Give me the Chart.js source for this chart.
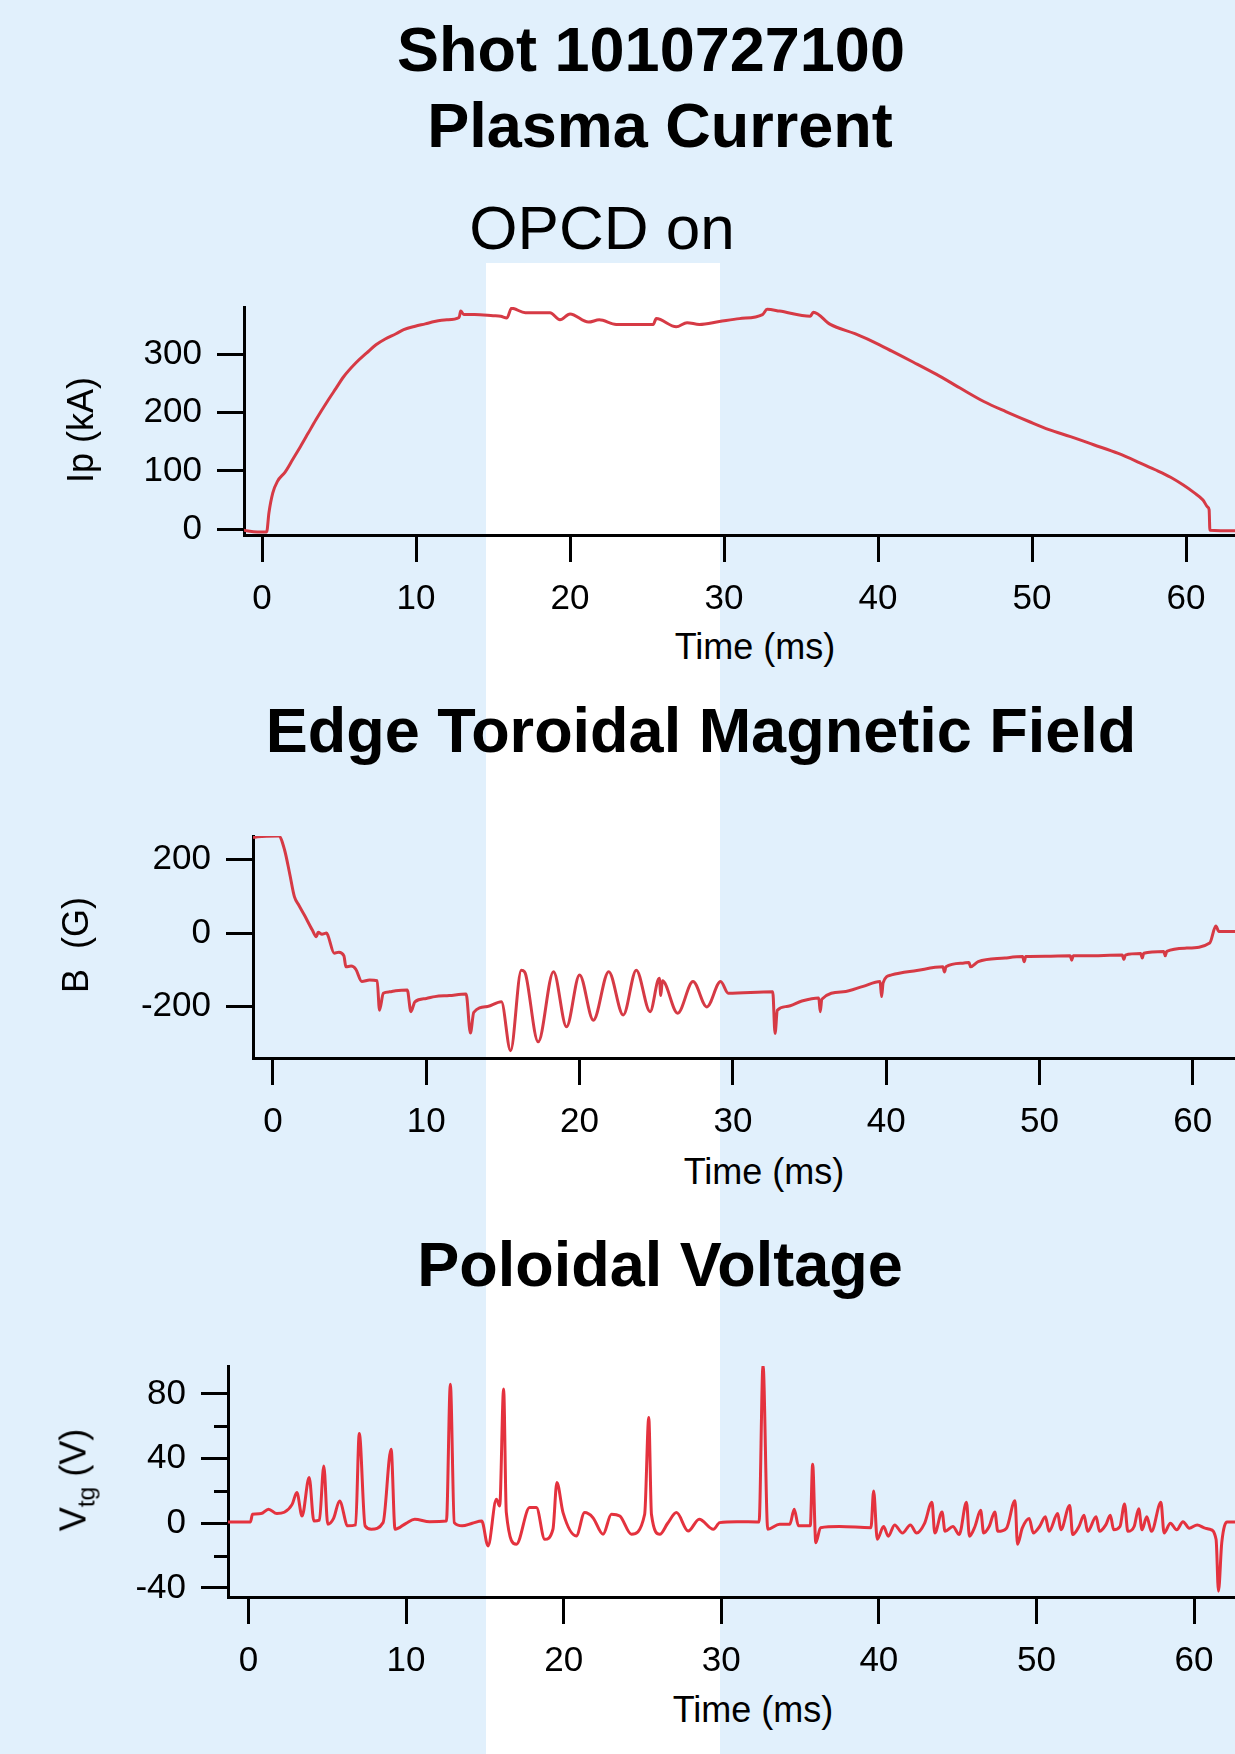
<!DOCTYPE html>
<html lang="en">
<head>
    <meta charset="UTF-8">
    <title>Shot 1010727100</title>
    <script src="https://cdn.jsdelivr.net/npm/chart.js"></script>
    <style>
        html, body {
            margin: 0;
            background: #E1F0FC;
        }
        body {
            position: relative;
            width: 1235px;
            height: 1754px;
            overflow: hidden;
            font-family: "Liberation Sans", Arial, sans-serif;
            color: #000;
        }
        /* white strip marking the OPCD-on window */
        .band {
            position: absolute;
            left: 486px;
            top: 263px;
            width: 234px;
            height: 1491px;
            background: #fff;
        }
        .panel {
            position: absolute;
            left: 0;
            width: 1235px;
        }
        .txt {
            position: absolute;
            transform: translate(-50%, -50%);
            white-space: nowrap;
            line-height: 1;
        }
        .title { font-weight: bold; font-size: 63px; }
        .axis { font-size: 36px; }
        .ylab { transform: translate(-50%, -50%) rotate(-90deg); }
        .ylab sub { font-size: 0.68em; vertical-align: -0.35em; }
    </style>
</head>
<body>
<div class="band"></div>

<div class="panel" id="ipBox"><canvas id="ipChart"></canvas></div>
<div class="panel" id="bBox"><canvas id="bChart"></canvas></div>
<div class="panel" id="vBox"><canvas id="vChart"></canvas></div>

<div class="txt title" style="left:651px; top:49px;">Shot 1010727100</div>
<div class="txt title" style="left:660px; top:125px;">Plasma Current</div>
<div class="txt" style="left:602px; top:228px; font-size:62px;">OPCD on</div>
<div class="txt axis ylab" style="left:81px; top:430px;">Ip (kA)</div>
<div class="txt axis" style="left:755px; top:647px;">Time (ms)</div>

<div class="txt title" style="left:701px; top:730px;">Edge Toroidal Magnetic Field</div>
<div class="txt axis ylab" style="left:76px; top:945px;">B&nbsp;&nbsp;(G)</div>
<div class="txt axis" style="left:764px; top:1172px;">Time (ms)</div>

<div class="txt title" style="left:660px; top:1264px;">Poloidal Voltage</div>
<div class="txt axis ylab" style="left:77px; top:1480px;">V<sub>tg</sub> (V)</div>
<div class="txt axis" style="left:753px; top:1710px;">Time (ms)</div>

<script>
    const FONT = '"Liberation Sans", Arial, sans-serif';

    // shared time ticks (ms)
    const timeTicks = [0, 10, 20, 30, 40, 50, 60];

    // Plasma current Ip (kA)
    const ipTime = [-1.2, -1.0, -0.3, 0.3, 0.45, 0.7, 1.0, 1.5, 2.0, 2.5, 3.0, 3.5, 4.3, 4.8, 5.3, 6.1, 6.8, 7.4, 8.0, 8.7,
        9.2, 9.95, 10.6, 11.2, 12.0, 12.8, 12.9, 13.1, 13.8, 15.0, 15.5, 15.9, 16.2, 17.1, 17.4, 18.7, 19.35, 20.0, 21.2, 21.9,
        23.0, 25.4, 25.6, 26.9, 27.6, 28.4, 29.7, 31.0, 32.5, 32.8, 33.6, 35.6, 35.8, 36.9, 38.5, 40.1, 40.9, 42.3, 43.8, 45.3,
        46.9, 48.3, 49.8, 51.1, 52.5, 54.0, 55.6, 57.0, 58.0, 59.0, 59.8, 60.5, 61.1, 61.4, 61.5, 61.55, 63.2];
    const ipValues = [-2, -3, -5, -5, 28, 62, 82, 98, 120, 142, 165, 188, 222, 242, 262, 286, 303, 317, 327, 336,
        343, 349, 353, 357, 360, 364, 375, 369, 369, 367, 366, 363, 380, 372, 372, 372, 360, 370, 356, 360,
        352, 352, 362, 348, 355, 352, 357, 362, 369, 378, 375, 366, 373, 352, 336, 317, 306, 287, 266, 243,
        219, 202, 185, 171, 159, 145, 130, 114, 102, 89, 76, 63, 50, 38, 33, -2, -3];
    const ipTicks = [0, 100, 200, 300];

    // Edge toroidal field B (G)
    const bTime = [-1.3, -1.0, 0.38, 0.76, 1.1, 1.4, 1.7, 2.05, 2.57, 2.83, 2.95, 3.2, 3.5, 3.6, 4.0, 4.3, 4.63, 4.76, 5.1, 5.4,
        5.8, 6.3, 6.8, 6.95, 7.2, 7.6, 8.0, 8.76, 9.0, 9.26, 10.0, 10.56, 11.5, 12.6, 12.88, 13.1, 14.0, 14.9, 15.5, 16.2,
        16.4, 16.5, 17.3, 18.3, 19.15, 20.0, 20.9, 21.9, 22.85, 23.7, 24.6, 25.2, 25.3, 25.4, 26.4, 27.4, 28.3, 29.2, 29.7, 32.6,
        32.75, 32.9, 33.5, 34.5, 35.6, 35.7, 35.8, 37.2, 38.5, 39.6, 39.7, 39.8, 40.35, 42.0, 43.7, 43.8, 43.9, 45.0, 45.4, 45.5,
        46.0, 47.75, 48.9, 49.0, 49.1, 50.4, 52.0, 52.1, 52.2, 53.0, 55.4, 55.5, 55.6, 56.6, 56.7, 56.8, 58.1, 58.2, 58.3, 59.6,
        61.1, 61.5, 61.7, 62.75];
    const bValues = [260, 262, 264, 226, 160, 99, 75, 49, 8, -10, 2, -3, 0, -8, -55, -52, -62, -92, -90, -98,
        -132, -128, -130, -210, -164, -160, -157, -155, -214, -187, -178, -173, -170, -166, -272, -216, -200, -187, -320, -101,
        -105, -115, -296, -105, -255, -114, -237, -105, -223, -101, -214, -123, -170, -130, -218, -132, -201, -132, -164, -160,
        -273, -210, -200, -185, -177, -214, -180, -160, -145, -132, -173, -135, -114, -102, -92, -106, -92, -82, -80, -92,
        -78, -68, -64, -78, -64, -63, -62, -74, -62, -62, -60, -72, -60, -56, -68, -55, -50, -62, -50, -41,
        -27, 19, 4, 4];
    const bTicks = [-200, 0, 200];

    // Poloidal voltage Vtg (V)
    const vTime = [-1.3, 0.13, 0.25, 0.8, 1.27, 1.8, 2.27, 2.77, 3.07, 3.4, 3.85, 4.15, 4.5, 4.78, 5.03, 5.4, 5.78, 6.3, 6.8, 7.03,
        7.4, 7.79, 8.54, 9.05, 9.3, 10.0, 10.55, 11.5, 12.56, 12.81, 13.06, 13.56, 14.2, 14.8, 15.2, 15.73, 15.94, 16.19, 16.36, 17.0,
        17.84, 18.27, 18.8, 19.32, 19.57, 19.96, 20.8, 21.33, 21.86, 22.5, 23.03, 23.56, 24.3, 25.14, 25.4, 25.57, 26.1, 26.6, 27.16, 27.9,
        28.6, 29.5, 29.9, 31.0, 32.4, 32.65, 32.95, 33.7, 34.35, 34.63, 34.9, 35.65, 35.8, 36.0, 36.3, 37.5, 39.5, 39.67, 39.9, 40.3,
        40.6, 41.0, 41.5, 42.0, 42.4, 42.9, 43.37, 43.55, 44.01, 44.2, 44.7, 45.1, 45.56, 45.75, 46.1, 46.46, 46.65, 47.0, 47.36, 47.55,
        48.1, 48.64, 48.8, 49.1, 49.54, 49.8, 50.2, 50.57, 50.8, 51.35, 51.55, 52.11, 52.3, 52.7, 53.02, 53.25, 53.79, 54.0, 54.4, 54.69,
        54.9, 55.3, 55.59, 55.8, 56.2, 56.49, 56.7, 57.0, 57.3, 57.9, 58.1, 58.5, 58.9, 59.3, 59.7, 60.2, 60.7, 61.0, 61.4, 61.55,
        61.76, 62.1, 62.6];
    const vValues = [0.8, 0.8, 5.6, 6, 8.7, 6, 6.8, 11.7, 19, 4.5, 28.4, 1.4, 2, 35.4, -0.6, 3, 13.8, -1.6, -1, 55.6,
        -1.6, -3.7, 0.4, 45.8, -3.7, 0, 2.5, 1, 1.4, 86, 0.4, -1.6, 0, 1.4, -14, 14.8, 10.7, 83, 6.8, -13,
        9.7, 9.7, -9.9, -3.7, 25.2, 6.6, -7.8, 6.6, 3.5, -6.8, 5.6, 4.5, -6.8, 5.6, 65.4, 5.6, -6.8, 0, 6.6, -4.8,
        2.5, -3.7, 0.4, 1, 0.8, 98, -3.7, -0.6, -0.6, 8.7, -1.6, -1.6, 36.5, -12, -2.7, -2, -2.7, 20, -9.9, -2,
        -8, -1, -6, -1, -6, 0, 13, -6, 7, -5, -2, -7, 13, -8, -2, 8, -6, -2, 7, -5,
        -3, 14, -13, -3, 3, -6, -2, 4, -5, 6, -4, 11, -7, -2, 5, -5, 4, -5, -1, 5,
        -4, -2, 12, -5, -2, 9, -4, 4, -5, 13, -6, 0, -4, 1, -3, -1, -3, -3.7, -10, -42,
        -12, 0.8, 0.8];
    const vTicks = [-40, 0, 40, 80];
    const vMinorTicks = [-20, 20, 60];

    // short unlabeled ticks on the voltage axis
    const minorTickPlugin = {
        id: 'minorTicks',
        afterDraw(chart, args, opts) {
            if (!opts || !opts.values) return;
            const ctx = chart.ctx;
            const y = chart.scales.y;
            const left = chart.chartArea.left;
            ctx.save();
            ctx.strokeStyle = '#000';
            ctx.lineWidth = 3;
            opts.values.forEach(v => {
                const py = Math.round(y.getPixelForValue(v)) + 0.5;
                ctx.beginPath();
                ctx.moveTo(left - 14, py);
                ctx.lineTo(left, py);
                ctx.stroke();
            });
            ctx.restore();
        }
    };

    function drawPanel(boxId, canvasId, p) {
        // place the canvas so that the plot area lands where the reference has it
        const box = document.getElementById(boxId);
        box.style.top = (p.areaTop - 30) + 'px';
        box.style.height = (p.areaBottom - p.areaTop + 30 + 90) + 'px';

        const axisFont = { family: FONT, size: 35 };
        new Chart(document.getElementById(canvasId), {
            type: 'line',
            data: {
                datasets: [{
                    data: p.time.map((t, i) => ({ x: t, y: p.values[i] })),
                    borderColor: p.color,
                    borderWidth: 3,
                    pointRadius: 0,
                    fill: false,
                    cubicInterpolationMode: 'monotone',
                    tension: 0
                }]
            },
            options: {
                responsive: true,
                maintainAspectRatio: false,
                animation: false,
                layout: { padding: { top: 30, right: 0, bottom: 0, left: 0 } },
                plugins: {
                    legend: { display: false },
                    tooltip: { enabled: false },
                    minorTicks: { values: p.minor || null }
                },
                scales: {
                    x: {
                        type: 'linear',
                        min: p.xMin,
                        max: p.xMax,
                        afterFit: s => { s.height = 90; s.paddingLeft = 0; s.paddingRight = 0; },
                        afterBuildTicks: s => { s.ticks = timeTicks.map(v => ({ value: v })); },
                        ticks: { font: axisFont, color: '#000', padding: 16, maxRotation: 0, autoSkip: false },
                        grid: { display: true, drawOnChartArea: false, drawTicks: true, tickLength: 27, tickWidth: 3, tickColor: '#000' },
                        border: { display: true, color: '#000', width: 3 }
                    },
                    y: {
                        type: 'linear',
                        min: p.yMin,
                        max: p.yMax,
                        afterFit: s => { s.width = p.areaLeft; s.paddingTop = 0; s.paddingBottom = 0; },
                        afterBuildTicks: s => { s.ticks = p.yTicks.map(v => ({ value: v })); },
                        ticks: { font: axisFont, color: '#000', padding: 15, autoSkip: false },
                        grid: { display: true, drawOnChartArea: false, drawTicks: true, tickLength: 27, tickWidth: 3, tickColor: '#000' },
                        border: { display: true, color: '#000', width: 3 }
                    }
                }
            },
            plugins: [minorTickPlugin]
        });
    }

    drawPanel('ipBox', 'ipChart', {
        time: ipTime, values: ipValues, yTicks: ipTicks,
        xMin: -1.17, xMax: 63.18, yMin: -10.3, yMax: 382,
        areaLeft: 244, areaTop: 307, areaBottom: 535,
        color: '#D63A45'
    });

    drawPanel('bBox', 'bChart', {
        time: bTime, values: bValues, yTicks: bTicks,
        xMin: -1.3, xMax: 62.75, yMin: -340, yMax: 264,
        areaLeft: 253, areaTop: 836, areaBottom: 1058,
        color: '#D63A45'
    });

    drawPanel('vBox', 'vChart', {
        time: vTime, values: vValues, yTicks: vTicks, minor: vMinorTicks,
        xMin: -1.3, xMax: 62.6, yMin: -45.6, yMax: 97.3,
        areaLeft: 228, areaTop: 1366, areaBottom: 1597,
        color: '#E4323E'
    });
</script>
</body>
</html>
